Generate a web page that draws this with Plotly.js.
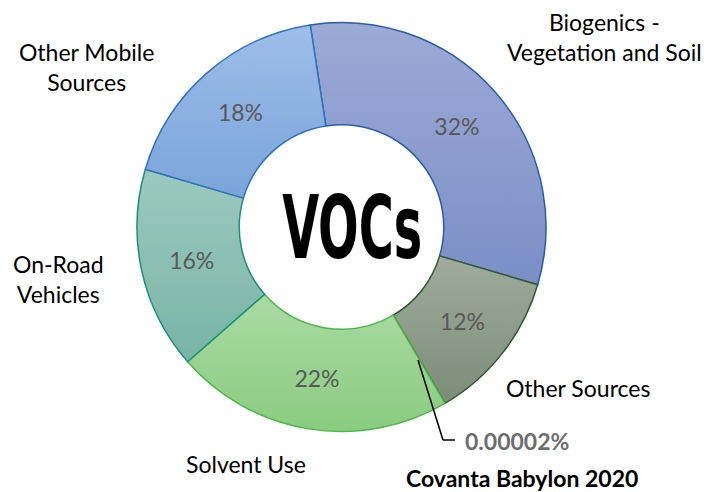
<!DOCTYPE html>
<html>
<head>
<meta charset="utf-8">
<script src="https://cdn.plot.ly/plotly-3.0.1.min.js"></script>
<style>html,body{margin:0;padding:0;background:#fff;}#chart{width:722px;height:492px;}</style>
</head>
<body>
<div id="chart"></div>
<script>
// Data (clockwise from ~12 o'clock)
const categories = ["Biogenics - Vegetation and Soil", "Other Sources", "Covanta Babylon 2020", "Solvent Use", "On-Road Vehicles", "Other Mobile Sources"];
const displayLabels = ["Biogenics -<br>Vegetation and Soil", "Other Sources", "Covanta Babylon 2020", "Solvent Use", "On-Road<br>Vehicles", "Other Mobile<br>Sources"];
const sharePct = [32, 12, 0.00002, 22, 16, 18];
const centerTitle = "VOCs";
const smallSliceLabel = "0.00002%";

const fillColors = ["#8E9ECE", "#8C9A89", "#3F5F3A", "#9BD391", "#8BC0B2", "#8DB1E1"];
const gradTop    = ["#9CAAD6", "#A0AB9D", "#3F5F3A", "#AADAA3", "#9DC9BF", "#9EBEE8"];
const gradBottom = ["#7B8EC6", "#7C8D77", "#3F5F3A", "#8BCC81", "#78B4A5", "#7AA4DA"];
const lineColors = ["#2A5DA8", "#2D5A2A", "#2D5A2A", "#4DB848", "#179080", "#2E74BE"];

const W = 722, H = 492;
const px = x => x / W, py = y => 1 - y / H;
const cx = 341.5, cy = 227, R = 204.5;

const trace = {
  type: "pie",
  labels: categories,
  values: sharePct,
  sort: false,
  direction: "clockwise",
  rotation: -8.8,
  hole: 0.5,
  domain: {x: [px(cx - R), px(cx + R)], y: [py(cy + R), py(cy - R)]},
  marker: {colors: fillColors, line: {color: lineColors, width: 1.5}},
  texttemplate: sharePct.map(v => v < 0.01 ? "" : "%{percent:.0%}"),
  textposition: "inside",
  insidetextorientation: "horizontal",
  insidetextfont: {family: "Lato, 'Open Sans', sans-serif", size: 23, color: "#595959"},
  hoverinfo: "none",
  showlegend: false
};

const labFont = {family: "Lato, 'Open Sans', sans-serif", size: 23, color: "#000000"};
function ann(text, x, y, extra) {
  return Object.assign({text: text, x: px(x), y: py(y), xref: "paper", yref: "paper",
    xanchor: "center", yanchor: "middle", showarrow: false, font: labFont, align: "center"}, extra || {});
}

const annotations = [
  ann(displayLabels[0], 604, 37),
  ann(displayLabels[1], 578, 388),
  ann(displayLabels[3], 246, 464),
  ann(displayLabels[4], 58, 279),
  ann(displayLabels[5], 86, 67),
  ann("<b>" + smallSliceLabel + "</b>", 517, 441, {font: {family: labFont.family, size: 23, color: "#6E6E6E"}}),
  ann("<b>" + displayLabels[2] + "</b>", 522, 478, {font: {family: labFont.family, size: 23, color: "#000000"}}),
  ann("<b>" + centerTitle + "</b>", 352, 228, {font: {family: "'DejaVu Sans Condensed', 'DejaVu Sans', sans-serif", size: 88, color: "#000000"}})
];

const shapes = [
  {type: "line", xref: "paper", yref: "paper", x0: px(418), y0: py(360), x1: px(443), y1: py(440), line: {color: "#000000", width: 1.5}},
  {type: "line", xref: "paper", yref: "paper", x0: px(443), y0: py(440), x1: px(455), y1: py(440), line: {color: "#000000", width: 1.5}}
];

const layout = {
  width: W, height: H,
  margin: {l: 0, r: 0, t: 0, b: 0},
  paper_bgcolor: "#ffffff",
  plot_bgcolor: "#ffffff",
  annotations: annotations,
  shapes: shapes,
  showlegend: false
};

Plotly.newPlot("chart", [trace], layout, {displayModeBar: false, staticPlot: true}).then(function (gd) {
  const NS = "http://www.w3.org/2000/svg";
  // vertical gradient fill per slice (light at top, darker at bottom)
  const svg = gd.querySelector("svg.main-svg");
  let defs = svg.querySelector("defs");
  if (!defs) { defs = document.createElementNS(NS, "defs"); svg.insertBefore(defs, svg.firstChild); }
  const slices = gd.querySelectorAll("g.slice path.surface");
  slices.forEach(function (p, i) {
    const g = document.createElementNS(NS, "linearGradient");
    g.setAttribute("id", "sliceGrad" + i);
    g.setAttribute("x1", "0"); g.setAttribute("y1", "0");
    g.setAttribute("x2", "0"); g.setAttribute("y2", "1");
    const s1 = document.createElementNS(NS, "stop");
    s1.setAttribute("offset", "0"); s1.setAttribute("stop-color", gradTop[i]);
    const s2 = document.createElementNS(NS, "stop");
    s2.setAttribute("offset", "1"); s2.setAttribute("stop-color", gradBottom[i]);
    g.appendChild(s1); g.appendChild(s2);
    defs.appendChild(g);
    p.style.fill = "url(#sliceGrad" + i + ")";
  });
  // condense the centre title horizontally to the target width
  gd.querySelectorAll(".annotation-text").forEach(function (t) {
    if (t.textContent === centerTitle) {
      const b = t.getBBox();
      const mx = b.x + b.width / 2;
      const s = 140 / b.width;
      t.setAttribute("transform", "translate(" + mx + ",0) scale(" + s + ",1) translate(" + (-mx) + ",0)");
    }
  });
});
</script>
</body>
</html>
